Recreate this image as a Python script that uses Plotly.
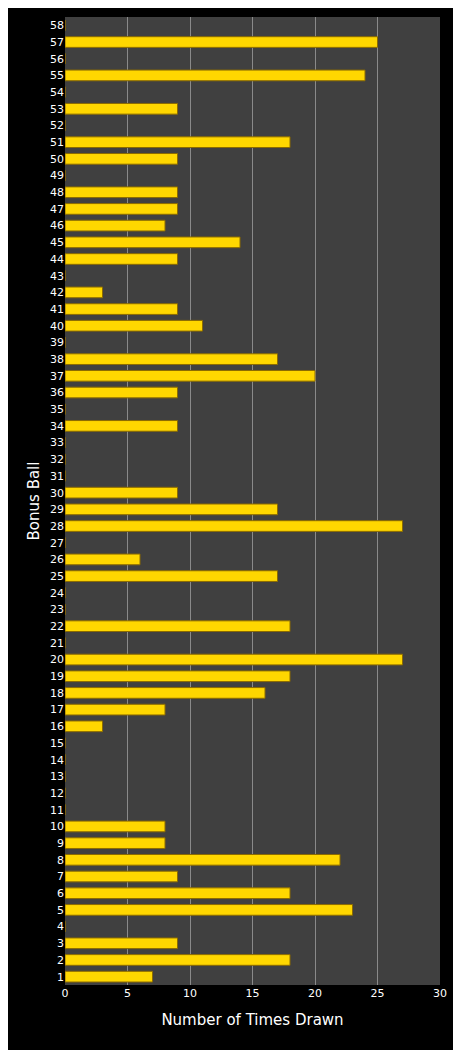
import plotly.graph_objects as go

balls = list(range(1, 59))
counts_map = {57:25,55:24,53:9,51:18,50:9,48:9,47:9,46:8,45:14,44:9,42:3,41:9,40:11,
              38:17,37:20,36:9,34:9,30:9,29:17,28:27,26:6,25:17,22:18,20:27,19:18,18:16,
              17:8,16:3,10:8,9:8,8:22,7:9,6:18,5:23,3:9,2:18,1:7}
counts = [counts_map.get(b, 0) for b in balls]
labels = [str(b) for b in balls]

fig = go.Figure(go.Bar(
    x=counts, y=labels, orientation='h',
    marker=dict(color='#FFD700', line=dict(color='#8B6B00', width=1)),
))
fig.update_layout(
    width=461, height=1050,
    paper_bgcolor='black', plot_bgcolor='#404040',
    margin=dict(l=57, r=29, t=9, b=73),
    bargap=0.36, showlegend=False,
    font=dict(family='DejaVu Sans', color='white', size=11),
)
fig.update_xaxes(range=[0, 30], dtick=5, showgrid=True, gridcolor='#8a8a8a', gridwidth=1,
                 zeroline=False, ticks='', title=dict(text='Number of Times Drawn', font=dict(size=15)),
                 tickfont=dict(size=11))
fig.update_yaxes(type='category', categoryorder='array', categoryarray=labels,
                 showgrid=False, ticks='', title=dict(text='Bonus Ball', font=dict(size=15), standoff=6),
                 tickfont=dict(size=11))
fig.write_html("out.html")
